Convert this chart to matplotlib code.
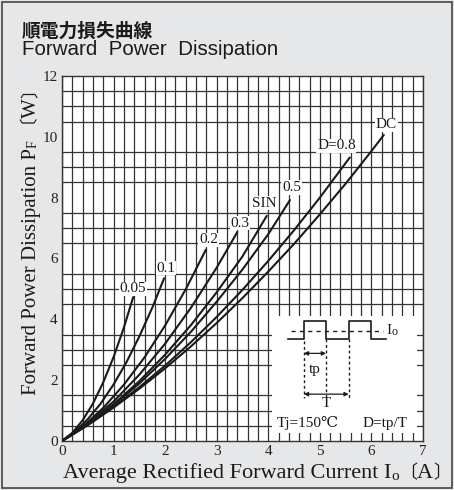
import numpy as np
import matplotlib.pyplot as plt
from matplotlib.patches import Rectangle

SERIF = ['Liberation Serif', 'DejaVu Serif', 'Noto Sans CJK JP']
INK = '#1a1a1a'

# curve data (Io [A], PF [W])
io_005 = [0, 0.2, 0.4, 0.6, 0.8, 1.0, 1.2, 1.38]
pf_005 = [0, 0.27, 0.68, 1.23, 1.93, 2.76, 3.73, 4.73]
io_01 = [0, 0.25, 0.5, 0.75, 1.0, 1.25, 1.5, 1.75, 1.98]
pf_01 = [0, 0.30, 0.72, 1.23, 1.86, 2.59, 3.44, 4.38, 5.35]
io_02 = [0, 0.4, 0.8, 1.2, 1.6, 2.0, 2.4, 2.79]
pf_02 = [0, 0.47, 1.09, 1.85, 2.75, 3.80, 4.99, 6.29]
io_03 = [0, 0.5, 1.0, 1.5, 2.0, 2.5, 3.0, 3.4]
pf_03 = [0, 0.58, 1.30, 2.18, 3.20, 4.38, 5.70, 6.87]
io_sin = [0, 0.5, 1.0, 1.5, 2.0, 2.5, 3.0, 3.5, 3.97]
pf_sin = [0, 0.55, 1.21, 1.97, 2.84, 3.81, 4.89, 6.07, 7.40]
io_05 = [0, 0.5, 1.0, 1.5, 2.0, 2.5, 3.0, 3.5, 4.0, 4.42]
pf_05 = [0, 0.54, 1.18, 1.89, 2.70, 3.59, 4.58, 5.64, 6.80, 7.92]
io_08 = [0, 0.5, 1.0, 1.5, 2.0, 2.5, 3.0, 3.5, 4.0, 4.5, 5.0, 5.58]
pf_08 = [0, 0.53, 1.12, 1.77, 2.48, 3.25, 4.08, 4.97, 5.92, 6.93, 8.00, 9.32]
io_dc = [0, 0.5, 1.0, 1.5, 2.0, 2.5, 3.0, 3.5, 4.0, 4.5, 5.0, 5.5, 6.0, 6.24]
pf_dc = [0, 0.52, 1.10, 1.72, 2.39, 3.11, 3.88, 4.70, 5.57, 6.48, 7.45, 8.46, 9.53, 10.06]

curves = [(io_005, pf_005), (io_01, pf_01), (io_02, pf_02), (io_03, pf_03),
          (io_sin, pf_sin), (io_05, pf_05), (io_08, pf_08), (io_dc, pf_dc)]
labels = ['0.05', '0.1', '0.2', '0.3', 'SIN', '0.5', 'D=0.8', 'DC']
label_pos = [(1.38, 5.0), (2.02, 5.68), (2.84, 6.61), (3.45, 7.16),
             (3.93, 7.82), (4.45, 8.33), (5.32, 9.70), (6.29, 10.39)]

fig = plt.figure(figsize=(4.54, 4.90), dpi=100, facecolor='#e6e7e8')
fig.patches.append(Rectangle((0.004, 0.004), 0.992, 0.992, transform=fig.transFigure,
                             fill=False, edgecolor='#444444', lw=1.2))

fig.text(0.048, 0.925, '順電力損失曲線', family='Noto Sans CJK JP', fontsize=13.5,
         weight='bold', color=INK)
fig.text(0.048, 0.888, 'Forward  Power  Dissipation', family='Liberation Sans',
         fontsize=14.8, color=INK)

ax = fig.add_axes([0.1366, 0.1, 0.7951, 0.745])
ax.set_xlim(0, 7)
ax.set_ylim(0, 12)
ax.set_facecolor('white')


def rich(pieces, x0, y0, rot=0):
    # chain text pieces (text, size, up-offset), baseline aligned
    prev = None
    for txt, size, dy in pieces:
        off = (0, dy) if rot == 0 else (-dy, 0)
        kw = dict(family=SERIF, fontsize=size, color=INK, ha='left', va='baseline',
                  rotation=rot, rotation_mode='anchor', annotation_clip=False,
                  textcoords='offset points', xytext=off)
        if prev is None:
            prev = ax.annotate(txt, xy=(x0, y0), xycoords='figure fraction', **kw)
        elif rot == 0:
            prev = ax.annotate(txt, xy=(1, y0), xycoords=(prev, 'figure fraction'), **kw)
        else:
            prev = ax.annotate(txt, xy=(x0, 1), xycoords=('figure fraction', prev), **kw)


ax.set_xticks(np.arange(0, 8, 1))
ax.set_yticks(np.arange(0, 13, 2))
ax.set_xticks(np.arange(0, 7.01, 0.2), minor=True)
ax.set_yticks(np.arange(0, 12.01, 0.5), minor=True)
ax.grid(True, which='minor', color='#333333', lw=0.9)
ax.grid(True, which='major', axis='x', color='#333333', lw=0.9)
ax.tick_params(which='both', length=0, pad=3, labelsize=11)
for lab in ax.get_xticklabels() + ax.get_yticklabels():
    lab.set_family(SERIF)
    lab.set_color('#222222')
for s in ax.spines.values():
    s.set_color('#333333')
    s.set_linewidth(1.0)

# inset box hides the grid
ax.add_patch(Rectangle((4.07, 0.26), 2.81, 3.84, facecolor='white', edgecolor='none', zorder=2))

for (x, y) in curves:
    ax.plot(x, y, color=INK, lw=1.5, zorder=3, solid_capstyle='round')
for t, (lx, ly) in zip(labels, label_pos):
    ax.text(lx, ly, t, family=SERIF, fontsize=11, ha='center', va='center', zorder=4,
            color=INK, bbox=dict(facecolor='white', edgecolor='none', pad=0.6))

# waveform diagram
wx = [4.39, 4.69, 4.69, 5.12, 5.12, 5.56, 5.56, 5.99, 5.99, 6.29]
wy = [3.35, 3.35, 3.93, 3.93, 3.35, 3.35, 3.93, 3.93, 3.35, 3.35]
ax.plot(wx, wy, color=INK, lw=1.2, zorder=3)
ax.plot([4.45, 6.23], [3.6, 3.6], color=INK, lw=1.0, ls=(0, (3, 3)), zorder=3)
ax.text(6.30, 3.52, 'I', family=SERIF, fontsize=11, va='baseline', zorder=4, color=INK)
ax.text(6.39, 3.47, 'o', family=SERIF, fontsize=8.5, va='baseline', zorder=4, color=INK)
for vx, top in [(4.69, 3.3), (5.12, 3.35), (5.56, 3.35)]:
    ax.plot([vx, vx], [top, 1.42], color=INK, lw=1.0, ls=(0, (2, 2)), zorder=3)
for x1, ya in [(5.12, 2.88), (5.56, 1.54)]:
    ax.annotate('', xy=(4.69, ya), xytext=(x1, ya), zorder=4,
                arrowprops=dict(arrowstyle='<|-|>', color=INK, lw=0.9,
                                mutation_scale=6, shrinkA=0, shrinkB=0))
ax.text(4.90, 2.36, 'tp', family=SERIF, fontsize=11, ha='center', va='center', zorder=4, color=INK)
ax.text(5.12, 1.22, 'T', family=SERIF, fontsize=11, ha='center', va='center', zorder=4, color=INK)
ax.text(4.77, 0.58, 'Tj=150℃', family=SERIF, fontsize=11, ha='center', va='center', zorder=4, color=INK)
ax.text(6.26, 0.58, 'D=tp/T', family=SERIF, fontsize=11, ha='center', va='center', zorder=4, color=INK)

# axis titles built from pieces (small F / o suffixes, CJK brackets)
rich([('Forward Power Dissipation P', 15, 0), ('F', 10, 0),
      (' 〔', 13, 0), ('W', 15, 0), ('〕', 13, 0)],
     0.080, 0.194, rot=90)
rich([('Average Rectified Forward Current I', 16, 0), ('o', 11, -1.5),
      ('〔', 13, 0), ('A', 16, 0), ('〕', 13, 0)],
     0.139, 0.024)

fig.savefig('out.png', dpi=100, facecolor=fig.get_facecolor())
